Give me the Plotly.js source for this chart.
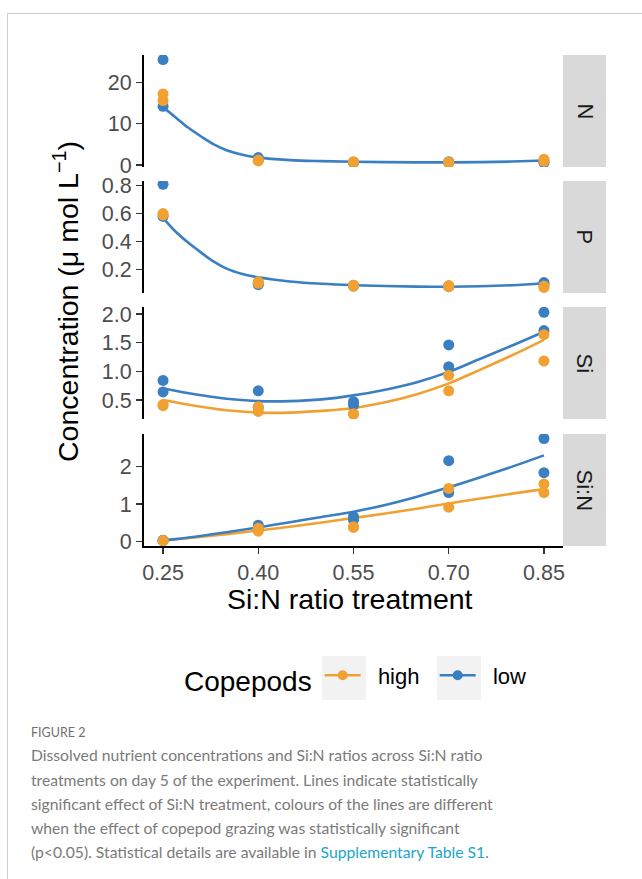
<!DOCTYPE html>
<html>
<head>
<meta charset="utf-8">
<script src="https://cdn.plot.ly/plotly-3.0.1.min.js"></script>
<style>
  html, body { margin: 0; padding: 0; background: #fff; }
  #wrap { position: relative; width: 642px; height: 879px; overflow: hidden; }
  #chart { position: absolute; left: 0; top: 0; width: 642px; height: 879px; }
  #frame { position: absolute; left: 7px; top: 13px; right: -2px; bottom: -2px;
           border-top: 1px solid #cfcfcf; border-left: 1px solid #cfcfcf; pointer-events: none; }
</style>
</head>
<body>
<div id="wrap"><div id="chart"></div><div id="frame"></div></div>
<script>
// Si:N ratio treatments (x) and two replicate mesocosms per copepod level
const treatments = [0.25, 0.40, 0.55, 0.70, 0.85];
const treatmentLabels = ["0.25", "0.40", "0.55", "0.70", "0.85"];
const replicateX = [0.25, 0.25, 0.40, 0.40, 0.55, 0.55, 0.70, 0.70, 0.85, 0.85];

// Dissolved nitrogen (µmol/L)
const nHigh = [17.2, 15.6, 1.0, 1.2, 0.8, 0.7, 0.7, 0.6, 1.4, 0.9];
const nLow  = [25.5, 14.2, 1.8, 1.2, 0.7, 0.6, 0.8, 0.6, 0.6, 0.8];
// Dissolved phosphorus
const pHigh = [0.60, 0.59, 0.10, 0.11, 0.085, 0.08, 0.083, 0.075, 0.07, 0.08];
const pLow  = [0.81, 0.58, 0.09, 0.10, 0.08, 0.085, 0.075, 0.08, 0.105, 0.09];
// Dissolved silicate
const siHigh = [0.42, 0.40, 0.38, 0.30, 0.26, 0.25, 0.93, 0.66, 1.64, 1.18];
const siLow  = [0.84, 0.64, 0.66, 0.37, 0.47, 0.41, 1.46, 1.08, 2.03, 1.71];
// Si:N ratio
const sinHigh = [0.03, 0.02, 0.36, 0.28, 0.38, 0.40, 1.42, 0.92, 1.54, 1.31];
const sinLow  = [0.03, 0.04, 0.44, 0.38, 0.67, 0.58, 2.16, 1.31, 2.75, 1.84];

// Fitted model curves
const fitXFine = [0.25, 0.27, 0.29, 0.31, 0.33, 0.35, 0.375, 0.40, 0.45, 0.50, 0.55, 0.60, 0.65, 0.70, 0.75, 0.80, 0.85];
const nFit = [14.0, 11.5, 9.0, 6.9, 5.0, 3.6, 2.5, 1.8, 1.2, 0.95, 0.8, 0.7, 0.65, 0.65, 0.7, 0.85, 1.1];
const pFit = [0.57, 0.47, 0.39, 0.32, 0.255, 0.205, 0.167, 0.143, 0.113, 0.096, 0.086, 0.08, 0.076, 0.075, 0.078, 0.086, 0.10];
const fitX = [0.25, 0.30, 0.35, 0.40, 0.45, 0.50, 0.55, 0.60, 0.65, 0.70, 0.75, 0.80, 0.85];
const siFitHigh  = [0.50, 0.40, 0.32, 0.28, 0.28, 0.31, 0.36, 0.46, 0.60, 0.79, 1.03, 1.28, 1.55];
const siFitLow   = [0.70, 0.60, 0.52, 0.48, 0.48, 0.51, 0.58, 0.68, 0.81, 0.99, 1.22, 1.45, 1.69];
const sinFitHigh = [0.03, 0.11, 0.20, 0.30, 0.40, 0.51, 0.63, 0.75, 0.88, 1.02, 1.15, 1.28, 1.40];
const sinFitLow  = [0.03, 0.13, 0.25, 0.38, 0.52, 0.66, 0.80, 0.98, 1.20, 1.45, 1.72, 2.00, 2.30];

const panelNames = ["N", "P", "Si", "Si:N"];
const nTicks = [0, 10, 20];
const pTicks = [0.2, 0.4, 0.6, 0.8];
const siTicks = [0.5, 1.0, 1.5, 2.0];
const siTickLabels = ["0.5", "1.0", "1.5", "2.0"];
const sinTicks = [0, 1, 2];

const seriesNames = ["high", "low"];
const captionLines = [
  "Dissolved nutrient concentrations and Si:N ratios across Si:N ratio",
  "treatments on day 5 of the experiment. Lines indicate statistically",
  "significant effect of Si:N treatment, colours of the lines are different",
  "when the effect of copepod grazing was statistically significant",
  "(p<0.05). Statistical details are available in <span style=\"color:#1ba5c9\">Supplementary Table S1</span>."
];

// ---- layout geometry (pixels) ----
const W = 642, H = 879;
const ORANGE = "#F0A132", BLUE = "#3A7FC1";
const plotLeft = 144, plotRight = 563;
const stripLeft = 563, stripRight = 606;
const panelPx = [[55, 167], [181, 293], [307, 419], [434, 546]];
const px = v => v / W;
const py = v => 1 - v / H;
const yDomain = i => [py(panelPx[i][1]), py(panelPx[i][0])];

const FONT = "Liberation Sans, Arial, Helvetica, sans-serif";
const NBSP2 = "\u00a0\u00a0";

function pts(x, y, color, yaxis) {
  return { x: x, y: y, yaxis: yaxis, xaxis: "x", type: "scatter", mode: "markers",
           marker: { color: color, size: 11 }, showlegend: false, hoverinfo: "x+y" };
}
function fit(x, y, color, yaxis) {
  return { x: x, y: y, yaxis: yaxis, xaxis: "x", type: "scatter", mode: "lines",
           line: { color: color, width: 2.6, shape: "spline", smoothing: 1 },
           showlegend: false, hoverinfo: "skip" };
}

const traces = [
  fit(fitXFine, nFit, BLUE, "y"),
  pts(replicateX, nLow, BLUE, "y"),
  pts(replicateX, nHigh, ORANGE, "y"),

  fit(fitXFine, pFit, BLUE, "y2"),
  pts(replicateX, pLow, BLUE, "y2"),
  pts(replicateX, pHigh, ORANGE, "y2"),

  fit(fitX, siFitHigh, ORANGE, "y3"),
  fit(fitX, siFitLow, BLUE, "y3"),
  pts(replicateX, siLow, BLUE, "y3"),
  pts(replicateX, siHigh, ORANGE, "y3"),

  fit(fitX, sinFitHigh, ORANGE, "y4"),
  fit(fitX, sinFitLow, BLUE, "y4"),
  pts(replicateX, sinLow, BLUE, "y4"),
  pts(replicateX, sinHigh, ORANGE, "y4"),

  // legend keys
  { x: [null], y: [null], xaxis: "x", yaxis: "y4", type: "scatter", mode: "lines+markers",
    name: NBSP2 + seriesNames[0], line: { color: ORANGE, width: 2.6 }, marker: { color: ORANGE, size: 10 } },
  { x: [null], y: [null], xaxis: "x", yaxis: "y4", type: "scatter", mode: "lines+markers",
    name: NBSP2 + seriesNames[1], line: { color: BLUE, width: 2.6 }, marker: { color: BLUE, size: 10 } }
];

const yAxisBase = {
  anchor: "x", showline: true, linecolor: "#000", linewidth: 2,
  ticks: "outside", ticklen: 6, tickwidth: 1.5, tickcolor: "#333",
  tickfont: { family: FONT, size: 21.5, color: "#4d4d4d" },
  showgrid: false, zeroline: false, fixedrange: true
};

const layout = {
  width: W, height: H,
  margin: { l: 0, r: 0, t: 0, b: 0 },
  paper_bgcolor: "rgba(0,0,0,0)", plot_bgcolor: "rgba(0,0,0,0)",
  font: { family: FONT, color: "#000" },
  showlegend: true,
  xaxis: {
    domain: [px(plotLeft), px(plotRight)], anchor: "y4", range: [0.22, 0.88],
    tickvals: treatments, ticktext: treatmentLabels,
    showline: true, linecolor: "#000", linewidth: 2,
    ticks: "outside", ticklen: 6, tickwidth: 1.5, tickcolor: "#333",
    tickfont: { family: FONT, size: 21.5, color: "#4d4d4d" },
    showgrid: false, zeroline: false, fixedrange: true
  },
  yaxis:  Object.assign({}, yAxisBase, { domain: yDomain(0), range: [-0.47, 26.6], tickvals: nTicks }),
  yaxis2: Object.assign({}, yAxisBase, { domain: yDomain(1), range: [0.03, 0.834], tickvals: pTicks }),
  yaxis3: Object.assign({}, yAxisBase, { domain: yDomain(2), range: [0.168, 2.122], tickvals: siTicks, ticktext: siTickLabels }),
  yaxis4: Object.assign({}, yAxisBase, { domain: yDomain(3), range: [-0.115, 2.87], tickvals: sinTicks }),
  legend: {
    orientation: "h", x: px(182), xanchor: "left", y: py(678), yanchor: "middle",
    title: { text: "Copepods", side: "left", font: { family: FONT, size: 28, color: "#000" } },
    font: { family: FONT, size: 22, color: "#000" },
    itemwidth: 36, entrywidth: 64, entrywidthmode: "pixels",
    bgcolor: "rgba(0,0,0,0)", itemclick: false, itemdoubleclick: false
  },
  shapes: [],
  annotations: []
};

// facet strips
panelNames.forEach((name, i) => {
  layout.shapes.push({ type: "rect", xref: "paper", yref: "paper", layer: "below",
    x0: px(stripLeft), x1: px(stripRight), y0: yDomain(i)[0], y1: yDomain(i)[1],
    fillcolor: "#d9d9d9", line: { width: 0 } });
  layout.annotations.push({ xref: "paper", yref: "paper", showarrow: false,
    x: px((stripLeft + stripRight) / 2), y: (yDomain(i)[0] + yDomain(i)[1]) / 2,
    xanchor: "center", yanchor: "middle", textangle: 90, text: name,
    font: { family: FONT, size: 22, color: "#1a1a1a" } });
});

// axis titles
layout.annotations.push({ xref: "paper", yref: "paper", showarrow: false,
  x: px(66), y: py(302), xanchor: "center", yanchor: "middle", textangle: -90,
  text: "Concentration (\u03bc mol L<sup>\u22121</sup>)",
  font: { family: FONT, size: 28.5, color: "#000" } });
layout.annotations.push({ xref: "paper", yref: "paper", showarrow: false,
  x: px(350), y: py(599), xanchor: "center", yanchor: "middle",
  text: "Si:N ratio treatment", font: { family: FONT, size: 28.5, color: "#000" } });

// legend key backgrounds
[[322, 366], [437, 481]].forEach(b => {
  layout.shapes.push({ type: "rect", xref: "paper", yref: "paper", layer: "below",
    x0: px(b[0]), x1: px(b[1]), y0: py(700), y1: py(656),
    fillcolor: "#f2f2f2", line: { width: 0 } });
});

// figure caption
const CAP = "Lato, 'Open Sans', sans-serif";
layout.annotations.push({ xref: "paper", yref: "paper", showarrow: false,
  x: px(29), y: py(732), xanchor: "left", yanchor: "middle", text: "FIGURE 2",
  font: { family: CAP, size: 12.5, color: "#707070" } });
const capY = [755, 780, 804, 828, 852];
captionLines.forEach((t, i) => {
  layout.annotations.push({ xref: "paper", yref: "paper", showarrow: false,
    x: px(29), y: py(capY[i]), xanchor: "left", yanchor: "middle", align: "left", text: t,
    font: { family: CAP, size: 15.7, color: "#7a7a7a" } });
});

Plotly.newPlot("chart", traces, layout, { staticPlot: true, displayModeBar: false });
</script>
</body>
</html>
